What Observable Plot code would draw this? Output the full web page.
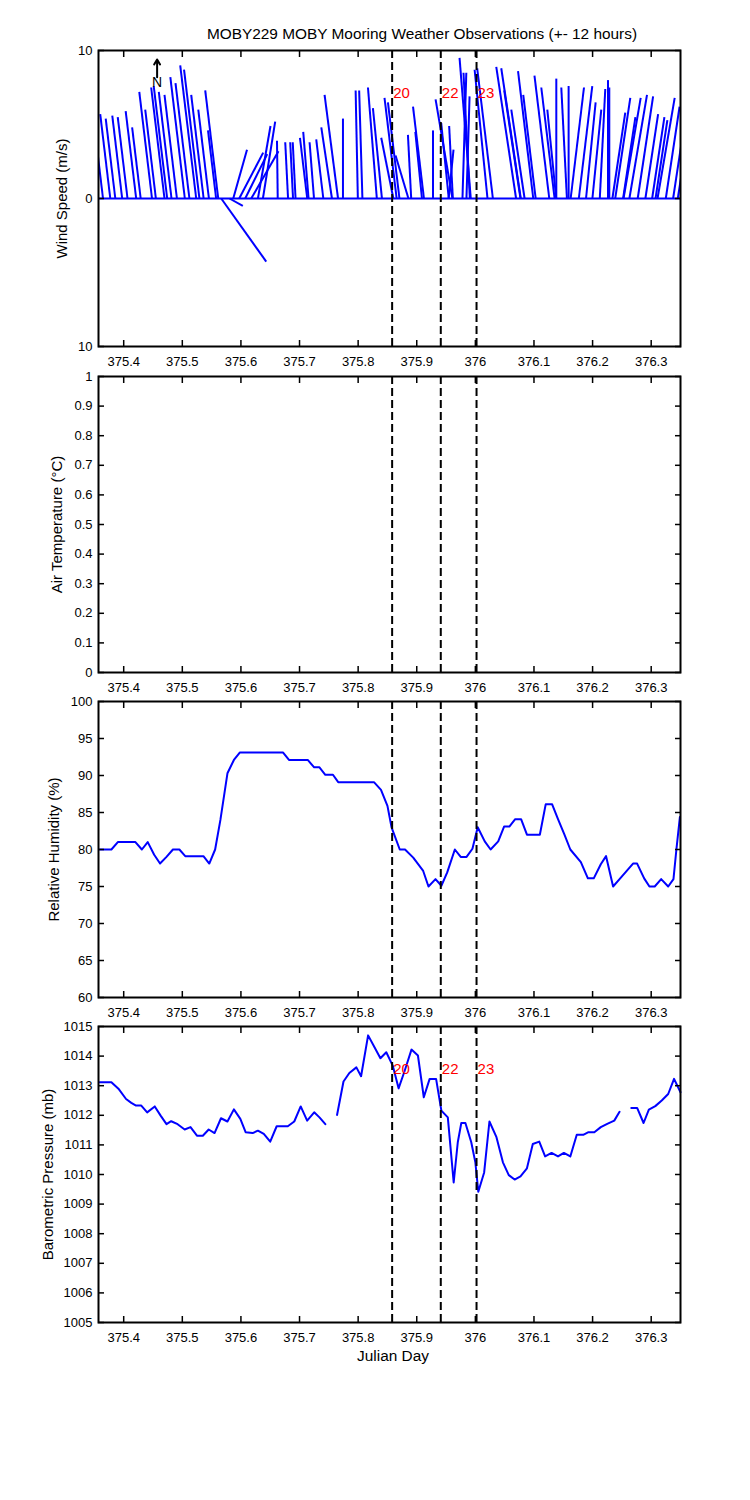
<!DOCTYPE html>
<html><head><meta charset="utf-8">
<script src="https://cdn.jsdelivr.net/npm/d3@7"></script>
<script src="https://cdn.jsdelivr.net/npm/@observablehq/plot@0.6"></script>
<style>
body{margin:0;background:#fff;}
#wrap{position:relative;width:750px;height:1500px;font-family:"Liberation Sans",Arial,sans-serif;color:#000;overflow:hidden;}
.panel{position:absolute;left:0;}
.txt{position:absolute;white-space:nowrap;transform:translateX(-50%);font-size:15.4px;line-height:18px;}
</style></head><body><div id="wrap"></div>
<script>
// ---------- data ----------
const xDomain = [375.357, 376.35];
const xTicks = [375.4, 375.5, 375.6, 375.7, 375.8, 375.9, 376.0, 376.1, 376.2, 376.3];
const eventTimes = [375.858, 375.941, 376.002];
const eventLabels = ["20", "22", "23"];

const windTicks = [-10, 0, 10];
const tempTicks = [0, 0.1, 0.2, 0.3, 0.4, 0.5, 0.6, 0.7, 0.8, 0.9, 1];
const rhTicks = [60, 65, 70, 75, 80, 85, 90, 95, 100];
const bpTicks = [1005, 1006, 1007, 1008, 1009, 1010, 1011, 1012, 1013, 1014, 1015];

// wind sticks: base time (Julian day), east (u) and north (v) components, m/s
const windTime = [375.3647, 375.3771, 375.3857, 375.3974, 375.4065, 375.4213, 375.4290, 375.4483, 375.4549, 375.4696,
  375.4742, 375.4816, 375.4908, 375.5043, 375.5121, 375.5237, 375.5292, 375.5364, 375.5454, 375.5577,
  375.5613, 375.5664, 375.5805, 375.5869, 375.5971, 375.6073, 375.6176, 375.6290, 375.6375, 375.6628,
  375.6804, 375.6889, 375.6932, 375.7131, 375.7154, 375.7247, 375.7406, 375.7553, 375.7657, 375.7741,
  375.7995, 375.8073, 375.8319, 375.8406, 375.8601, 375.8657, 375.8705, 375.8858, 375.8905, 375.9089,
  375.9123, 375.9277, 375.9544, 375.9546, 375.9609, 375.9616, 375.9780, 375.9848, 375.9906, 375.9922,
  376.0207, 376.0299, 376.0695, 376.0770, 376.0775, 376.0840, 376.0988, 376.1029, 376.1261, 376.1352,
  376.1379, 376.1381, 376.1562, 376.1591, 376.1626, 376.1765, 376.1888, 376.1997, 376.2123, 376.2263,
  376.2285, 376.2338, 376.2386, 376.2521, 376.2528, 376.2628, 376.2770, 376.2901, 376.3016, 376.3074,
  376.3108, 376.3249, 376.3374, 376.3454];
const windU = [-0.66, -0.68, -0.65, -0.67, -0.66, -0.71, -0.58, -0.86, -0.72, -0.90,
  -0.91, -0.86, -0.84, -0.98, -0.94, -1.08, -1.04, -0.84, -0.72, -0.55,
  -0.88, 3.04, 0.90, 0.93, 1.62, 1.49, 1.84, 0.85, 0.83, -0.05,
  -0.19, -0.19, -0.19, -0.49, -0.36, -0.30, -0.48, -0.72, -0.91, 0,
  -0.15, -0.22, -0.60, -0.61, -0.82, -0.82, -0.78, -0.87, -0.22, -0.45,
  -0.74, 0, 0.33, -0.51, -1.14, -0.25, 0.26, 0.21, -0.43, -0.76,
  -0.87, -1.06, -1.34, -1.10, -1.32, -0.90, -1.03, -0.84, -1.00, -0.90,
  -0.60, 0, -0.38, 0, 0.90, 0.91, 0.65, 0.60, 0.37, 0,
  0, 0.87, 1.02, 0.83, 1.16, 1.19, 1.04, 0.86, 0.83, 0.80,
  1.16, 0.93, 0.83, 0.38];
const windV = [5.5, 5.7, 5.4, 5.6, 5.5, 5.9, 4.8, 7.2, 6.0, 7.5,
  7.6, 7.2, 7.0, 8.2, 7.8, 9.0, 8.7, 7.0, 6.0, 4.6,
  7.3, -4.26, -0.5, 3.3, 3.1, 3.0, 3.2, 4.9, 5.2, 3.9,
  3.8, 3.8, 3.8, 4.1, 4.5, 3.8, 4.0, 4.8, 7.0, 5.4,
  7.3, 7.3, 7.5, 6.1, 4.1, 6.8, 6.5, 2.9, 4.3, 4.5,
  6.2, 4.6, 3.3, 5.1, 6.7, 4.9, 8.5, 6.9, 8.5, 9.5,
  8.7, 8.8, 8.9, 7.3, 8.8, 6.0, 8.6, 7.0, 8.3, 7.5,
  6.0, 8.1, 7.5, 7.6, 7.5, 7.6, 6.5, 6.0, 7.4, 8.0,
  7.5, 5.8, 6.8, 5.5, 6.8, 7.0, 6.9, 5.7, 5.5, 5.3,
  6.8, 6.2, 5.5, 2.5];

const rhTime = [375.359, 375.379, 375.390, 375.420, 375.431, 375.441, 375.452, 375.462, 375.473, 375.484,
  375.495, 375.505, 375.536, 375.546, 375.556, 375.565, 375.577, 375.588, 375.598, 375.672,
  375.682, 375.714, 375.725, 375.734, 375.744, 375.757, 375.766, 375.827, 375.839, 375.850,
  375.857, 375.871, 375.880, 375.894, 375.911, 375.920, 375.932, 375.942, 375.952, 375.965,
  375.975, 375.985, 375.995, 376.004, 376.016, 376.026, 376.039, 376.049, 376.058, 376.068,
  376.078, 376.088, 376.110, 376.120, 376.131, 376.141, 376.152, 376.162, 376.180, 376.192,
  376.202, 376.214, 376.223, 376.235, 376.246, 376.269, 376.276, 376.288, 376.297, 376.306,
  376.317, 376.329, 376.338, 376.343, 376.349];
const rhValue = [80, 80, 81, 81, 80, 81, 79.3, 78.1, 79, 80,
  80, 79.1, 79.1, 78.1, 80, 84, 90.3, 92.1, 93.1, 93.1,
  92.1, 92.1, 91.1, 91.1, 90.1, 90.1, 89.1, 89.1, 88.05, 85.9,
  83, 80, 80, 78.9, 77.1, 75, 76, 75.1, 76.9, 80,
  79, 79, 80.1, 83, 81.1, 80, 81.1, 83.1, 83.1, 84.1,
  84.1, 82, 82, 86.1, 86.1, 84.1, 82, 80, 78.3, 76.1,
  76.1, 78, 79.1, 75, 76, 78.1, 78.1, 76.1, 75, 75,
  76, 75, 76, 80, 84.4];

const bpTime = [375.359, 375.379, 375.391, 375.404, 375.413, 375.421, 375.430, 375.440, 375.453, 375.463,
  375.473, 375.481, 375.492, 375.504, 375.514, 375.525, 375.535, 375.545, 375.555, 375.566,
  375.577, 375.588, 375.599, 375.608, 375.620, 375.629, 375.639, 375.650, 375.661, 375.680,
  375.691, 375.702, 375.713, 375.725, 375.734, 375.744, 375.754, 375.764, 375.775, 375.785,
  375.797, 375.805, 375.817, 375.827, 375.838, 375.848, 375.859, 375.869, 375.879, 375.891,
  375.902, 375.912, 375.922, 375.933, 375.942, 375.953, 375.963, 375.970, 375.976, 375.983,
  375.993, 376.000, 376.005, 376.015, 376.024, 376.036, 376.047, 376.057, 376.067, 376.077,
  376.088, 376.098, 376.109, 376.119, 376.130, 376.141, 376.151, 376.162, 376.173, 376.184,
  376.193, 376.203, 376.214, 376.225, 376.237, 376.246, 376.256, 376.266, 376.276, 376.287,
  376.296, 376.307, 376.318, 376.329, 376.339, 376.350];
const bpValue = [1013.12, 1013.12, 1012.9, 1012.55, 1012.42, 1012.33, 1012.33, 1012.1, 1012.3, 1011.99,
  1011.7, 1011.8, 1011.7, 1011.52, 1011.6, 1011.31, 1011.31, 1011.52, 1011.4, 1011.9,
  1011.79, 1012.2, 1011.88, 1011.43, 1011.4, 1011.48, 1011.37, 1011.11, 1011.63, 1011.63,
  1011.79, 1012.3, 1011.82, 1012.1, 1011.93, 1011.7, null, 1012.01, 1013.14, 1013.43,
  1013.62, 1013.32, 1014.7, 1014.33, 1013.93, 1014.13, 1013.68, 1012.91, 1013.48, 1014.22,
  1014.02, 1012.61, 1013.23, 1013.23, 1012.16, 1011.93, 1009.73, 1011.09, 1011.74, 1011.74,
  1011.09, 1010.41, 1009.42, 1010.07, 1011.79, 1011.26, 1010.41, 1009.98, 1009.83, 1009.94,
  1010.21, 1011.03, 1011.11, 1010.61, 1010.73, 1010.61, 1010.73, 1010.61, 1011.34, 1011.34,
  1011.43, 1011.43, 1011.6, 1011.71, 1011.82, 1012.12, null, 1012.25, 1012.25, 1011.74,
  1012.19, 1012.31, 1012.5, 1012.72, 1013.23, 1012.78];

const northMarker = {t: 375.457, v: 8.2, len: 1.2};
const eventLabelY = {wind: 7.1, bp: 1013.55};

// ---------- drawing ----------
const FONT = '"Liberation Sans", Arial, Helvetica, sans-serif';
const BLUE = "#0000ff";
const wrap = document.getElementById("wrap");
const FRAME_H = 296, MT = 10, MB = 44, ML = 98, MR = 70;
// days per m/s so sticks keep equal pixel scaling in x and y
const K = (FRAME_H / 20) / ((750 - ML - MR) / (xDomain[1] - xDomain[0]));

const wind = windTime.map((t, i) => ({t, u: windU[i], v: windV[i]}));
const rh = rhTime.map((t, i) => ({t, h: rhValue[i]}));
const bp = bpTime.map((t, i) => ({t, p: bpValue[i]}));
const fmtX = d => String(+d.toFixed(1));
const blank = () => "";

function panel({top, yDomain, yTicks, yFmt, label, labelX, marks}) {
  const chart = Plot.plot({
    width: 750, height: FRAME_H + MT + MB,
    marginLeft: ML, marginRight: MR, marginTop: MT, marginBottom: MB,
    style: {background: "transparent", fontFamily: FONT, fontSize: "13px", color: "black", overflow: "visible"},
    x: {domain: xDomain},
    y: {domain: yDomain},
    marks: [
      ...marks,
      Plot.ruleX(eventTimes, {stroke: "black", strokeWidth: 2, strokeDasharray: "8,4"}),
      Plot.frame({stroke: "black", strokeWidth: 2}),
      Plot.axisX(xTicks, {anchor: "bottom", tickSize: -6, tickPadding: 16, tickFormat: fmtX, strokeWidth: 1.5, label: null}),
      Plot.axisX(xTicks, {anchor: "top", tickSize: -6, tickFormat: blank, strokeWidth: 1.5, label: null}),
      Plot.axisY(yTicks, {anchor: "left", tickSize: -6, tickPadding: 12, tickFormat: yFmt, strokeWidth: 1.5, label: null}),
      Plot.axisY(yTicks, {anchor: "right", tickSize: -6, tickFormat: blank, strokeWidth: 1.5, label: null}),
      Plot.text([label], {frameAnchor: "left", dx: labelX - ML, rotate: -90, fontSize: 15, textAnchor: "middle", lineAnchor: "middle"})
    ]
  });
  chart.classList.add("panel");
  chart.style.top = (top - MT) + "px";
  wrap.appendChild(chart);
}

const evLabels = (y) => Plot.text(eventTimes, {x: d => d, y, text: (d, i) => eventLabels[i], fill: "#ff0000", fontSize: 15, textAnchor: "start", lineAnchor: "middle", dx: 1});

panel({
  top: 50, yDomain: [-10, 10], yTicks: windTicks, yFmt: d => String(Math.abs(d)),
  label: "Wind Speed (m/s)", labelX: 61.5,
  marks: [
    Plot.ruleY([0], {stroke: BLUE, strokeWidth: 2}),
    Plot.link(wind, {x1: "t", y1: 0, x2: d => d.t + d.u * K, y2: "v", stroke: BLUE, strokeWidth: 2, clip: true}),
    Plot.arrow([northMarker], {x1: "t", x2: "t", y1: "v", y2: d => d.v + d.len, stroke: "black", strokeWidth: 2, headLength: 6}),
    Plot.text([northMarker], {x: "t", y: d => d.v - 0.35, text: () => "N", fontSize: 14, lineAnchor: "middle"}),
    evLabels(eventLabelY.wind)
  ]
});

panel({
  top: 375.5, yDomain: [0, 1], yTicks: tempTicks, yFmt: d => String(+d.toFixed(1)),
  label: "Air Temperature (°C)", labelX: 57,
  marks: []
});

panel({
  top: 701, yDomain: [60, 100], yTicks: rhTicks, yFmt: d => String(d),
  label: "Relative Humidity (%)", labelX: 54,
  marks: [Plot.line(rh, {x: "t", y: "h", stroke: BLUE, strokeWidth: 2})]
});

panel({
  top: 1026, yDomain: [1005, 1015], yTicks: bpTicks, yFmt: d => String(d),
  label: "Barometric Pressure (mb)", labelX: 47.5,
  marks: [
    Plot.line(bp, {x: "t", y: "p", stroke: BLUE, strokeWidth: 2}),
    evLabels(eventLabelY.bp)
  ]
});

const title = document.createElement("div");
title.className = "txt";
title.style.left = "422px"; title.style.top = "25px";
title.textContent = "MOBY229 MOBY Mooring Weather Observations (+- 12 hours)";
wrap.appendChild(title);

const xl = document.createElement("div");
xl.className = "txt";
xl.style.left = "393px"; xl.style.top = "1346.5px";
xl.textContent = "Julian Day";
wrap.appendChild(xl);
</script></body></html>
